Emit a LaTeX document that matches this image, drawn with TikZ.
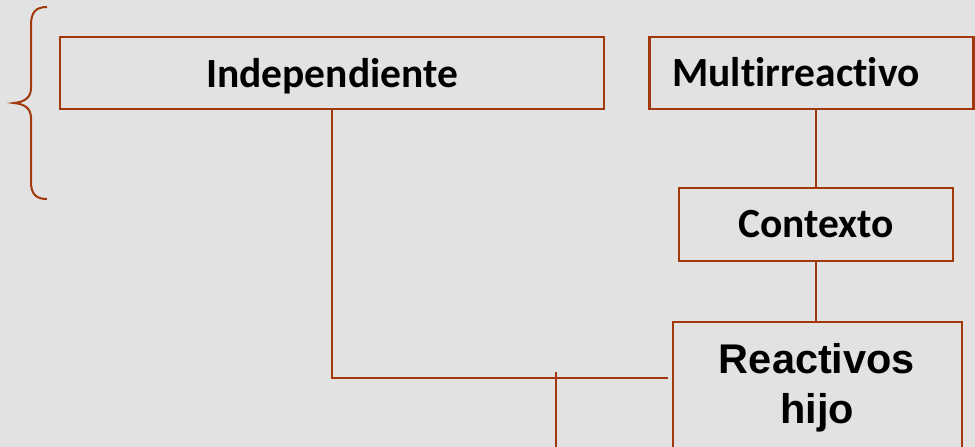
\documentclass[tikz,border=0pt]{standalone}
\usepackage{fontspec}
\setmainfont[Ligatures=NoCommon]{Carlito}
\newfontfamily\arialf{Liberation Sans}
\definecolor{brn}{RGB}{162,57,13}
\definecolor{bgc}{RGB}{226,226,226}
\begin{document}
\begin{tikzpicture}[x=1pt,y=-1pt,
  boxstyle/.style={draw=brn, line width=2.8pt, inner sep=0pt, rectangle},
  conn/.style={draw=brn, line width=2.2pt},
  lbl/.style={anchor=base, inner sep=0pt, font=\fontsize{41.5}{50}\selectfont\bfseries, text=black},
  lblr/.style={anchor=base, inner sep=0pt, font=\fontsize{41.5}{50}\selectfont\arialf\bfseries, text=black}]
\useasboundingbox (0,0) rectangle (975,447);
\fill[bgc] (0,0) rectangle (975,447);
\clip (0,0) rectangle (975,447);
% boxes
\node[boxstyle, minimum width=544pt, minimum height=72pt] (ind) at (332,73) {};
\node[boxstyle, minimum width=324pt, minimum height=72pt] (multi) at (811.5,73) {};
\node[boxstyle, minimum width=274pt, minimum height=73pt] (ctx) at (816,224.5) {};
\node[boxstyle, minimum width=289pt, minimum height=150pt] (rh) at (817.5,397) {};
% labels
\node[lbl] (indt) at (332,87) {Independiente};
\node[lbl] (multit) at (796,86) {Multirreactivo};
\node[lbl] (ctxt) at (816,237) {Contexto};
\node[lblr] (rht1) at (817,373) {Reactivos};
\node[lblr] (rht2) at (817,423) {hijo};
% connectors
\coordinate (elbowEnd) at (668,378);
\coordinate (dropTop) at (556,372);
\coordinate (dropBot) at (556,452);
\draw[conn] (ctx.north) -- (ctx.north |- multi.south);
\draw[conn] (ctx.south) -- (ctx.south |- rh.north);
\draw[conn] (ind.south) |- (elbowEnd);
\draw[conn] (dropTop) -- (dropBot);
% brace
\draw[brn, line width=2pt] (47,7) .. controls (36,7) and (31,12) .. (31,25) -- (31,88)
  .. controls (31,98) and (24,102) .. (14,103)
  .. controls (24,104) and (31,108) .. (31,118) -- (31,182)
  .. controls (31,194) and (36,199) .. (47,199);
\end{tikzpicture}
\end{document}
